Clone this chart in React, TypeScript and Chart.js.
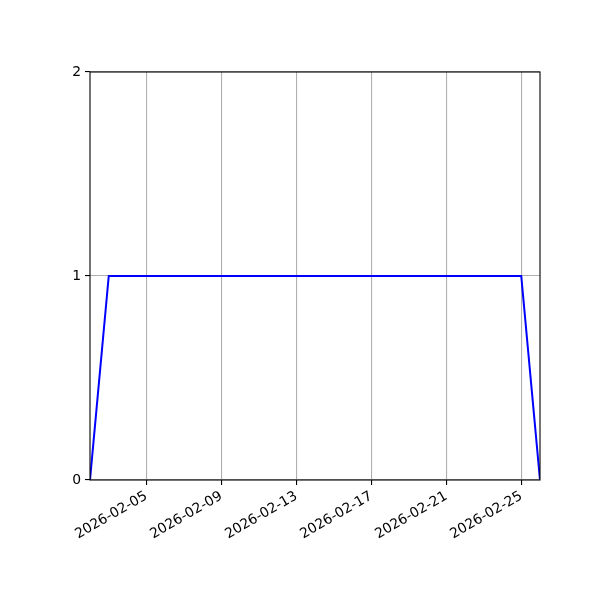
import { useRef, useEffect } from 'react';
import { Chart, registerables } from 'chart.js';
import type { Plugin } from 'chart.js';

Chart.register(...registerables);

// daily series, starting 2026-02-02
const START_LABEL = '2026-02-02';
const DAY_INDEX = [0, 1, 2, 3, 4, 5, 6, 7, 8, 9, 10, 11, 12, 13, 14, 15, 16, 17, 18, 19, 20, 21, 22, 23, 24];
const VALUES = [0, 1, 1, 1, 1, 1, 1, 1, 1, 1, 1, 1, 1, 1, 1, 1, 1, 1, 1, 1, 1, 1, 1, 1, 0];

const X_TICK_DAYS = [3, 7, 11, 15, 19, 23];
const X_TICK_LABELS = ['2026-02-05', '2026-02-09', '2026-02-13', '2026-02-17', '2026-02-21', '2026-02-25'];
const Y_TICKS = [0, 1, 2];

const FONT = { family: '"DejaVu Sans", sans-serif', size: 13.9 };

const frame: Plugin<'line'> = {
  id: 'frame',
  afterDatasetsDraw(chart) {
    const { ctx, chartArea: a } = chart;
    ctx.save();
    ctx.strokeStyle = '#000';
    ctx.lineWidth = 1.1;
    ctx.strokeRect(a.left, a.top, a.right - a.left, a.bottom - a.top);
    ctx.restore();
  },
};

export default function App() {
  const canvasRef = useRef<HTMLCanvasElement>(null);

  useEffect(() => {
    if (!canvasRef.current) return;
    const chart = new Chart(canvasRef.current, {
      type: 'line',
      data: {
        datasets: [{
          label: START_LABEL,
          data: DAY_INDEX.map((d, i) => ({ x: d, y: VALUES[i] })),
          borderColor: '#0000ff',
          borderWidth: 2,
          pointRadius: 0,
          tension: 0,
        }],
      },
      options: {
        responsive: false,
        animation: false,
        layout: { padding: { left: 0, top: 72, right: 60, bottom: 0 } },
        plugins: { legend: { display: false }, tooltip: { enabled: false } },
        scales: {
          x: {
            type: 'linear',
            min: 0,
            max: 24,
            afterBuildTicks: (axis) => { axis.ticks = X_TICK_DAYS.map(v => ({ value: v })); },
            afterFit: (axis) => { axis.height = 120; },
            grid: { color: '#b0b0b0', lineWidth: 1.1, tickLength: 5, tickColor: '#000', drawTicks: true },
            border: { display: false },
            ticks: {
              color: '#000',
              font: FONT,
              padding: 3,
              minRotation: 30,
              maxRotation: 30,
              autoSkip: false,
              callback: (v) => X_TICK_LABELS[X_TICK_DAYS.indexOf(Number(v))] ?? '',
            },
          },
          y: {
            min: 0,
            max: 2,
            afterBuildTicks: (axis) => { axis.ticks = Y_TICKS.map(v => ({ value: v })); },
            afterFit: (axis) => { axis.width = 90; },
            grid: { color: '#b0b0b0', lineWidth: 1.1, tickLength: 5, tickColor: '#000', drawTicks: true },
            border: { display: false },
            ticks: { color: '#000', font: FONT, padding: 4 },
          },
        },
      },
      plugins: [frame],
    });
    return () => chart.destroy();
  }, []);

  return (
    <div style={{ position: 'fixed', left: 0, top: 0, width: 600, height: 600, background: '#fff' }}>
      <canvas ref={canvasRef} width={600} height={600} />
    </div>
  );
}
